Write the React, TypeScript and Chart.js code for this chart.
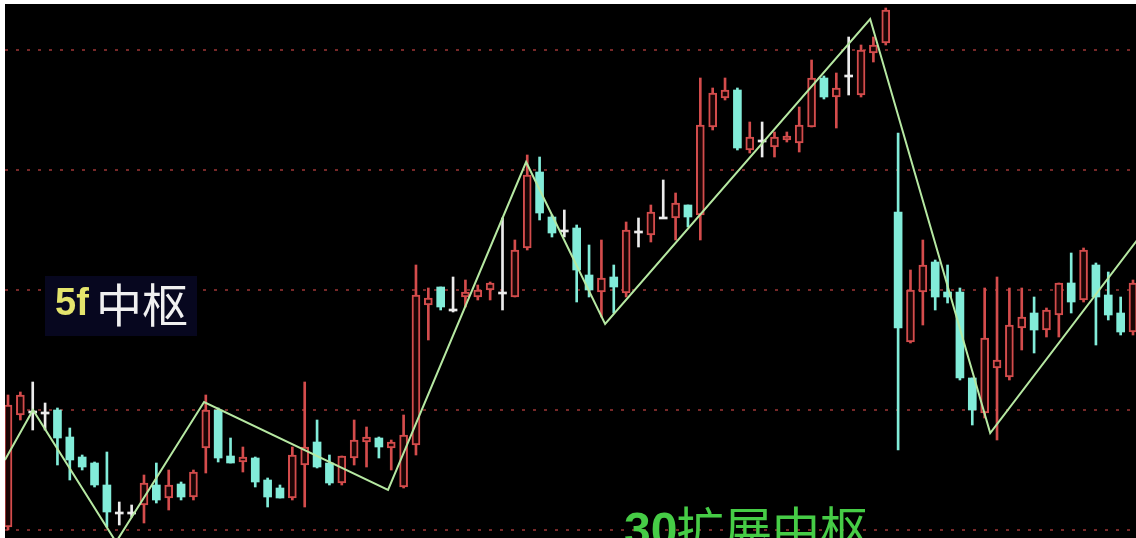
import React, { useEffect, useRef } from 'react';
import { Chart, registerables } from 'chart.js';

Chart.register(...registerables);

// Candle values (one per bar, left to right)
const opens = [3, 115, 119, 118, 120, 93, 73, 67, 45, 18, 18, 25, 45, 32, 46, 33, 82, 120, 74, 68, 72, 50, 42, 32, 65, 88, 67, 47, 72, 88, 92, 82, 43, 85, 225, 243, 221, 233, 233, 240, 238, 233, 282, 358, 313, 300, 302, 255, 238, 253, 237, 299, 295, 313, 312, 325, 315, 403, 432, 440, 380, 390, 383, 390, 387, 403, 452, 433, 455, 435, 477, 487, 318, 188, 238, 268, 238, 238, 152, 117, 162, 153, 202, 217, 200, 215, 247, 230, 265, 235, 217, 198];
const highs = [135, 138, 148, 127, 122, 102, 75, 68, 78, 28, 25, 55, 67, 60, 48, 60, 135, 122, 92, 83, 73, 52, 45, 83, 148, 110, 75, 74, 110, 103, 93, 90, 115, 265, 242, 243, 253, 250, 245, 248, 312, 290, 375, 373, 315, 320, 305, 285, 290, 265, 308, 312, 325, 350, 337, 325, 452, 442, 452, 442, 408, 408, 398, 398, 423, 470, 454, 457, 493, 485, 493, 522, 397, 260, 290, 270, 265, 242, 152, 242, 253, 242, 242, 233, 222, 247, 277, 282, 267, 258, 233, 250];
const lows = [0, 110, 100, 100, 65, 50, 60, 43, 3, 5, 13, 7, 27, 20, 30, 30, 57, 68, 67, 58, 43, 23, 32, 30, 23, 62, 45, 45, 65, 63, 72, 60, 42, 75, 190, 220, 218, 223, 230, 230, 220, 233, 280, 310, 293, 293, 228, 233, 213, 217, 233, 283, 288, 312, 290, 303, 290, 400, 430, 380, 377, 373, 373, 388, 378, 403, 431, 402, 435, 433, 468, 485, 80, 187, 205, 220, 227, 150, 105, 112, 90, 150, 180, 177, 193, 193, 217, 228, 185, 210, 195, 195];
const closes = [125, 135, 119, 118, 92, 70, 63, 45, 18, 18, 18, 47, 30, 45, 33, 58, 120, 72, 67, 73, 48, 33, 32, 75, 83, 63, 47, 74, 90, 93, 83, 88, 95, 235, 232, 223, 221, 238, 240, 247, 238, 280, 355, 317, 297, 300, 260, 240, 252, 243, 300, 299, 318, 313, 327, 313, 405, 437, 440, 382, 393, 390, 393, 394, 405, 452, 433, 442, 455, 480, 485, 520, 202, 240, 265, 233, 233, 152, 120, 192, 170, 205, 213, 200, 220, 247, 228, 280, 233, 215, 198, 247];

// Zigzag (stroke) line vertices: candle index position and value
const zigX = [-0.25, 2.02, 8.74, 15.86, 30.74, 41.91, 48.3, 69.74, 79.45, 91.34];
const zigY = [70, 120, -12, 128, 40, 368, 206, 511, 97, 290];

// Horizontal dotted grid values
const gridValues = [0, 120, 240, 360, 480];

const RED = '#d44c4c';
const CYAN = '#82ecd9';
const WHITE = '#ececec';

const candleColor = (i: number) =>
  closes[i] > opens[i] ? RED : closes[i] < opens[i] ? CYAN : WHITE;

const gridPlugin = {
  id: 'dottedGrid',
  beforeDatasetsDraw(chart: any) {
    const { ctx, chartArea, scales } = chart;
    ctx.save();
    ctx.strokeStyle = 'rgba(125,42,42,0.95)';
    ctx.lineWidth = 2;
    ctx.setLineDash([3, 8]);
    gridValues.forEach((v) => {
      const y = Math.round(scales.y.getPixelForValue(v));
      ctx.beginPath();
      ctx.moveTo(chartArea.left, y);
      ctx.lineTo(chartArea.right, y);
      ctx.stroke();
    });
    ctx.restore();
  },
};

export default function App() {
  const ref = useRef<HTMLCanvasElement | null>(null);

  useEffect(() => {
    document.body.style.margin = '0';
    const idx = opens.map((_, i) => i);
    const colors = idx.map(candleColor);
    const bodyFill = idx.map((i) => (closes[i] > opens[i] ? '#1a0505' : colors[i]));
    const chart = new Chart(ref.current as HTMLCanvasElement, {
      type: 'bar',
      data: {
        datasets: [
          {
            type: 'line',
            data: zigX.map((x, i) => ({ x, y: zigY[i] })),
            borderColor: '#b6e8a2',
            borderWidth: 2,
            pointRadius: 0,
            tension: 0,
          } as any,
          {
            type: 'bar',
            data: idx.map((i) => ({ x: i, y: [opens[i], closes[i]] })),
            backgroundColor: bodyFill,
            borderColor: colors,
            borderWidth: idx.map((i) => (closes[i] > opens[i] ? 2 : 0)),
            borderSkipped: false,
            barThickness: 8,
            grouped: false,
            minBarLength: 2,
          } as any,
          {
            type: 'bar',
            data: idx.map((i) => ({ x: i, y: [lows[i], highs[i]] })),
            backgroundColor: colors,
            borderWidth: 0,
            barThickness: 2,
            grouped: false,
          } as any,
        ],
      },
      options: {
        responsive: false,
        animation: false,
        layout: { padding: 0 },
        plugins: { legend: { display: false }, tooltip: { enabled: false } },
        scales: {
          x: { type: 'linear', min: -0.2427, max: 91.242, display: false, offset: false },
          y: { type: 'linear', min: -8, max: 526, display: false },
        },
      } as any,
      plugins: [gridPlugin],
    });
    return () => chart.destroy();
  }, []);

  return (
    <div style={{ position: 'relative', width: 1136, height: 538, background: '#fff', overflow: 'hidden' }}>
      <div style={{ position: 'absolute', left: 5, top: 4, width: 1131, height: 534, background: '#000' }}>
        <canvas ref={ref} width={1131} height={534} style={{ display: 'block' }} />
      </div>
      <div style={{ position: 'absolute', left: 45, top: 276, width: 152, height: 60, background: '#07071f' }} />
      <span style={{ position: 'absolute', left: 55, top: 283, fontSize: 38, lineHeight: '38px', fontWeight: 'bold', fontFamily: '"Liberation Sans", Arial, sans-serif', color: '#e4e46c', whiteSpace: 'nowrap' }}>5f</span>
      <span style={{ position: 'absolute', left: 96, top: 279, fontSize: 46, lineHeight: '46px', fontFamily: '"Noto Sans CJK SC", sans-serif', color: '#f0f0f0', whiteSpace: 'nowrap' }}>中枢</span>
      <span style={{ position: 'absolute', left: 624, top: 506, fontSize: 48, lineHeight: '48px', fontWeight: 'bold', fontFamily: '"Liberation Sans", Arial, sans-serif', color: '#46cc46', whiteSpace: 'nowrap' }}>30</span>
      <span style={{ position: 'absolute', left: 676, top: 502, fontSize: 48, lineHeight: '48px', fontFamily: '"Noto Sans CJK SC", sans-serif', color: '#46cc46', whiteSpace: 'nowrap' }}>扩展中枢</span>
    </div>
  );
}
